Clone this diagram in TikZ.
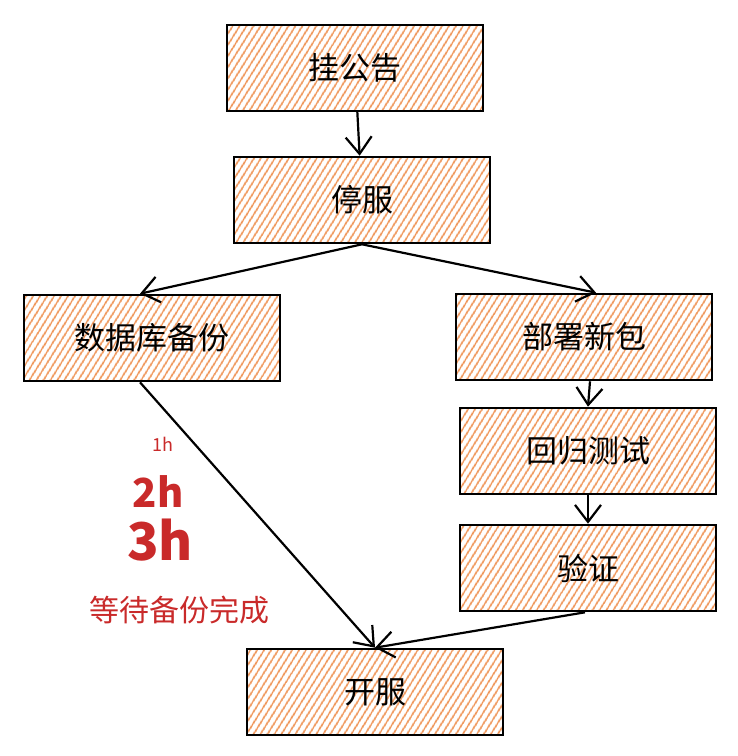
\documentclass[tikz,border=0pt]{standalone}
\usepackage{fontspec}
\setmainfont{Noto Sans CJK SC}
\usepackage{xcolor}
\usetikzlibrary{arrows.meta,patterns.meta}
\definecolor{hatch}{HTML}{EE9050}
\definecolor{note}{HTML}{C92A2A}
\tikzset{%
  every stepbox/.style={
    draw,
    line width=2.6pt,
    minimum width=256pt,
    minimum height=86pt,
    pattern={Lines[angle=58,distance=6.4pt,line width=1.8pt]},
    pattern color=hatch,
    font=\fontsize{31}{34}\selectfont
  },
  flow/.style={
    line width=2.2pt,
    -{Straight Barb[length=17pt,width=26pt,line width=2.2pt]}
  },
  notetext/.style={
    text=note,
    inner sep=0pt
  },
}
\begin{document}
\begin{tikzpicture}[x=1pt, y=-1pt]

    \useasboundingbox (0,0) rectangle (738,756);

    \foreach \n/\x/\y/\t in {gonggao/355/68/挂公告, tingfu/362/200/停服,
        beifen/152/338/数据库备份, bushu/584/337/部署新包,
        huigui/588/451/回归测试, yanzheng/588/568/验证, kaifu/375/692/开服}
    \node [every stepbox/.try] (\n) at (\x,\y) {\t};

    \draw [flow] (gonggao) -- (tingfu);
    \draw [flow] (tingfu.south) -- ([xshift=-12pt]beifen.north);
    \draw [flow] (tingfu.south) -- ([xshift=12pt]bushu.north);
    \draw [flow] ([xshift=6pt]bushu.south) -- (huigui.north);
    \draw [flow] (huigui) -- (yanzheng);
    \draw [flow] ([xshift=-12pt]beifen.south) -- (kaifu.north);
    \draw [flow] ([xshift=-3pt]yanzheng.south) -- (kaifu.north);

    % annotations
    \node [notetext, font=\fontsize{18}{18}\selectfont] (one) at (163,444) {1h};
    \node [notetext, font=\fontsize{40}{40}\selectfont\bfseries] (two) at (158,492) {2h};
    \node [notetext, font=\fontsize{52}{52}\selectfont\bfseries] (three) at (160,540) {3h};
    \node [notetext, font=\fontsize{30}{32}\selectfont] (wait) at (179,610) {等待备份完成};

\end{tikzpicture}
\end{document}
